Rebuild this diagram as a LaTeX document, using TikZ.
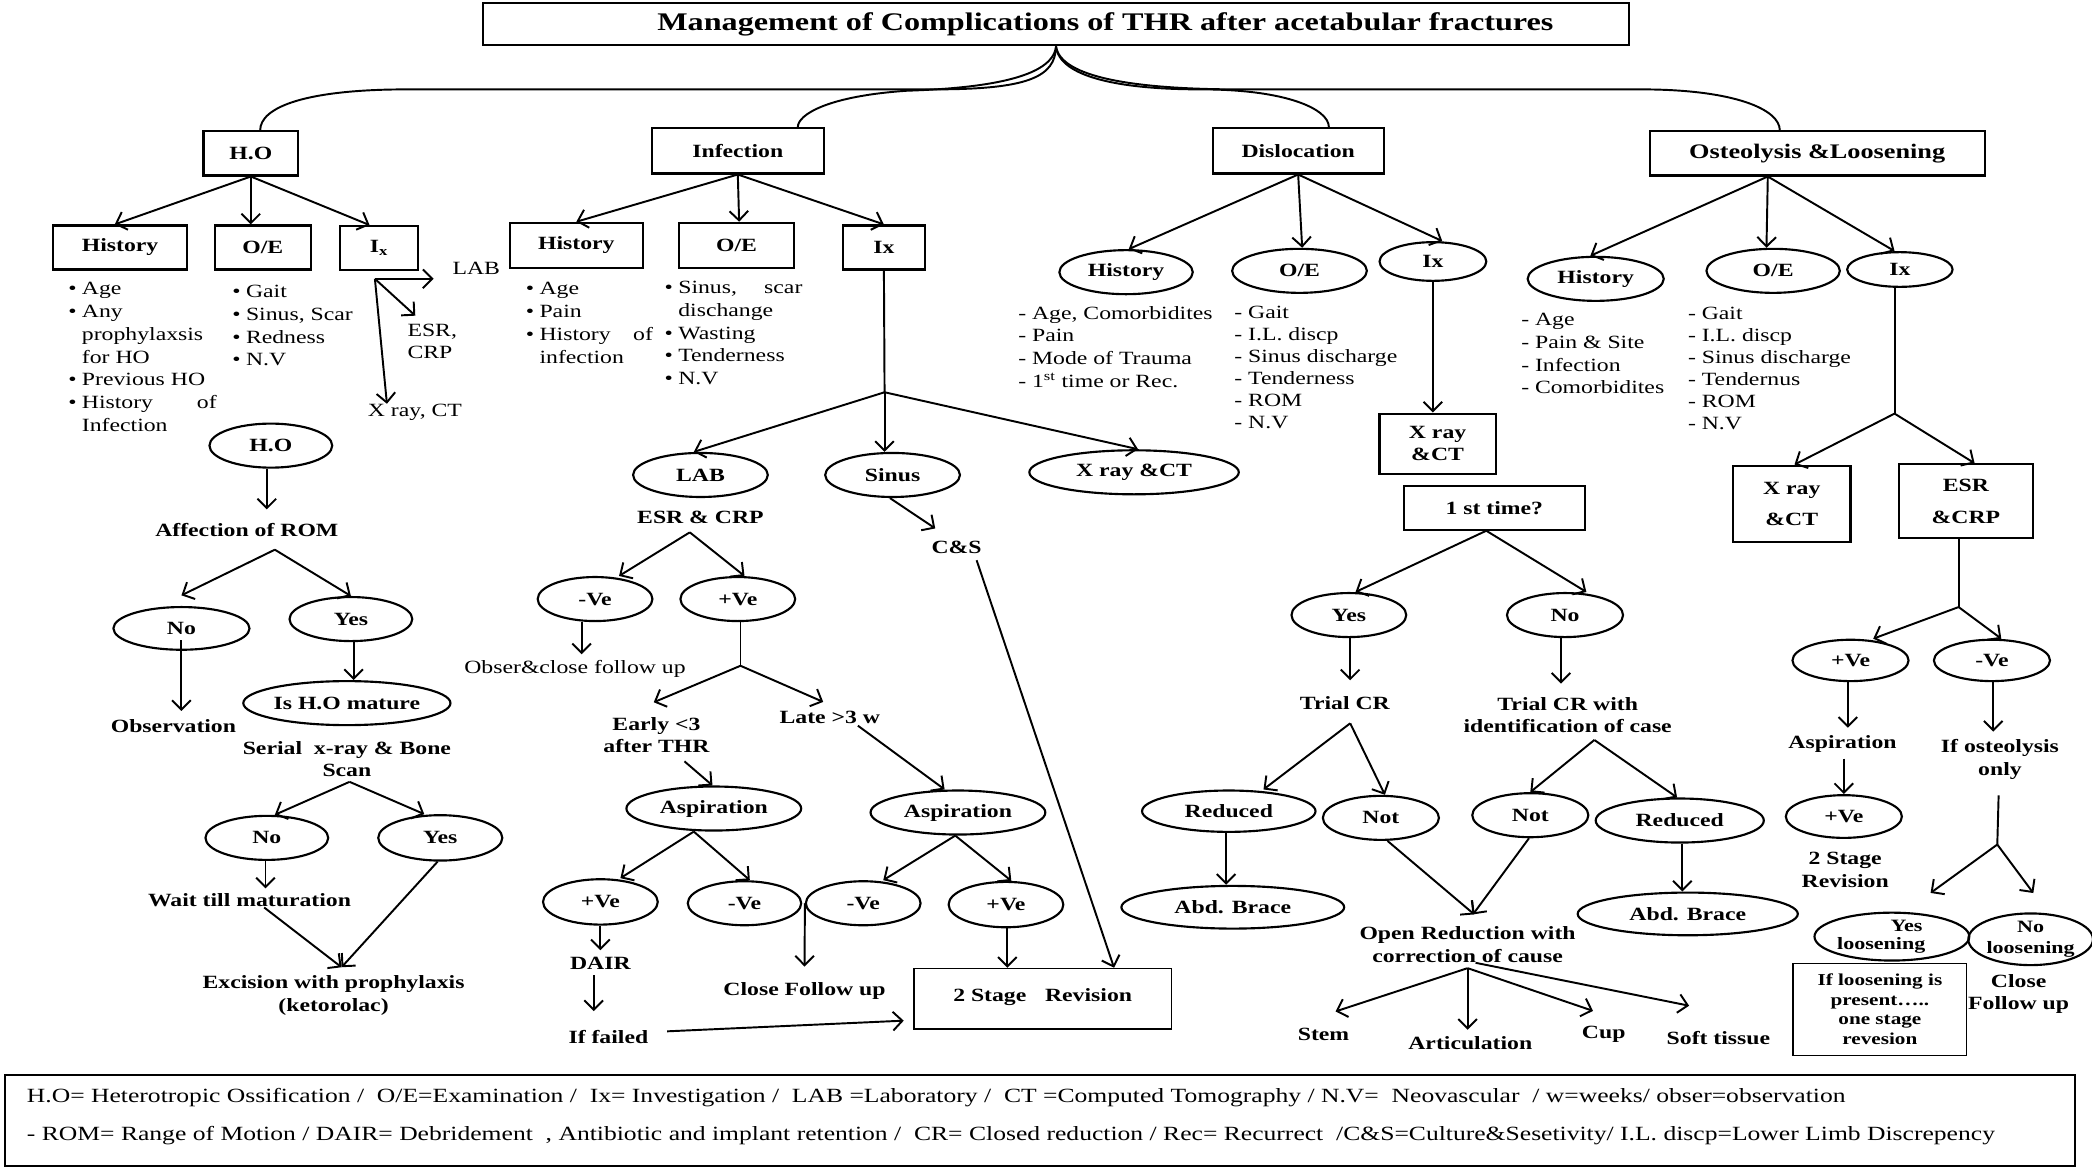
\documentclass[tikz,border=0pt]{standalone}
\usepackage{fontspec}
\setmainfont[FakeStretch=1.27]{Liberation Serif}
\usetikzlibrary{shapes.geometric,arrows.meta}
\newcommand{\myB}{\fontsize{14}{17}\selectfont\bfseries}
\newcommand{\myR}{\fontsize{14}{17}\selectfont}
\newcommand{\myRs}{\fontsize{14}{16.5}\selectfont}
\newcommand{\bl}{\textbullet}
\begin{document}
\begin{tikzpicture}[x=1pt,y=-1pt,
  box/.style={draw,line width=1.6pt,rectangle,inner sep=0pt,font=\myB,align=center},
  ell/.style={draw,line width=1.6pt,ellipse,inner sep=0pt,font=\myB,align=center},
  lbl/.style={inner sep=0pt,font=\myB,align=center},
  txt/.style={inner sep=0pt,font=\myR,align=center},
  lst/.style={inner sep=0pt,font=\myR,anchor=north west},
  lsts/.style={inner sep=0pt,font=\myRs,anchor=north west},
  arr/.style={line width=1.45pt,-{Straight Barb[length=7pt,width=14pt]}},
  ln/.style={line width=1.45pt}]
\useasboundingbox (0,0) rectangle (1568,875);

% ---------- title and level 1
\node[box,minimum width=859pt,minimum height=32pt,font=\fontsize{19}{19}\selectfont\bfseries] (title) at (791.5,18) {\hspace*{74pt}Management of Complications of THR after acetabular fractures};
\node[box,minimum width=71pt,minimum height=33pt] (ho) at (188,115) {H.O};
\node[box,minimum width=129pt,minimum height=34pt] (inf) at (553,113) {Infection};
\node[box,minimum width=128pt,minimum height=34pt] (dis) at (973,113) {Dislocation};
\node[box,minimum width=251pt,minimum height=33pt,font=\fontsize{15.5}{17}\selectfont\bfseries] (ost) at (1362,115) {Osteolysis \&Loosening};

\draw[ln] (title.south) .. controls (791,58) and (770,67) .. (700,67) -- (305,67) .. controls (230,67) and (195,80) .. ([xshift=7pt]ho.north);
\draw[ln] (title.south) .. controls (789,58) and (740,66) .. (680,68) .. controls (620,72) and (598,86) .. ([xshift=45pt]inf.north);
\draw[ln] (title.south) .. controls (794,58) and (840,67) .. (900,67) .. controls (965,67) and (996,82) .. ([xshift=23pt]dis.north);
\draw[ln] (title.south) .. controls (795,58) and (850,67) .. (930,67) -- (1230,67) .. controls (1300,67) and (1334,82) .. ([xshift=-28pt]ost.north);

% ---------- H.O
\node[box,minimum width=100pt,minimum height=33pt] (hohist) at (90,185.5) {History};
\node[box,minimum width=72pt,minimum height=33pt] (hooe) at (197,185.5) {O/E};
\node[box,minimum width=58pt,minimum height=33pt] (hoix) at (284,186) {I\textsubscript{x}};
\draw[arr] (ho.south) -- ([xshift=-4pt]hohist.north);
\draw[arr] (ho.south) -- (ho.south |- hooe.north);
\draw[arr] (ho.south) -- ([xshift=-7pt]hoix.north);

\coordinate (ixo) at (281,209);
\coordinate (labend) at (325,209);
\node[txt] (labho) at (357,201) {LAB};
\node[txt,align=left] (esrho) at (324,256) {ESR,\\CRP};
\node[txt] (xrho) at (311,309) {X ray, CT};
\draw[arr] (ixo) -- (labend);
\draw[arr] (ixo) -- ([xshift=6pt,yshift=6pt]esrho.north west);
\draw[arr] (ixo) -- ([xshift=-21pt]xrho.north);

\node[lst] (hohl) at (51,209) {\begin{tabular}{@{}l@{\hspace{4pt}}l@{}}\bl & Age\\ \bl & Any\\ & prophylaxsis\\ & for HO\\ \bl & Previous HO\\ \bl & \makebox[101pt][s]{History of}\\ & Infection\end{tabular}};
\node[lst] (hooel) at (174,211) {\begin{tabular}{@{}l@{\hspace{4pt}}l@{}}\bl & Gait\\ \bl & Sinus, Scar\\ \bl & Redness\\ \bl & N.V\end{tabular}};

\node[ell,minimum width=92pt,minimum height=33pt] (hoe) at (203,334) {H.O};
\node[lbl] (aff) at (185,397) {Affection of ROM};
\draw[arr] ([xshift=-3pt]hoe.south) -- ([xshift=15pt,yshift=10pt]aff.north);
\coordinate (b1) at (206,412);
\node[ell,minimum width=102pt,minimum height=32pt] (hono) at (136,471) {No};
\node[ell,minimum width=92pt,minimum height=33pt] (hoyes) at (263,464) {Yes};
\draw[arr] (b1) -- ([yshift=8pt]hono.north);
\draw[arr] (b1) -- (hoyes.north);
\node[lbl] (obs) at (130,544) {Observation};
\draw[arr] ([yshift=-9pt]hono.center) -- ([xshift=6pt,yshift=6pt]obs.north);
\node[ell,minimum width=130pt,minimum height=33pt] (mat) at (260,527) {Is H.O mature};
\draw[arr] ([xshift=2pt]hoyes.south) -- ([xshift=5pt]mat.north);
\node[lbl] (ser) at (260,569) {Serial\ \ x-ray \& Bone\\Scan};
\coordinate (b2) at (262,586);
\node[ell,minimum width=92pt,minimum height=33pt] (hono2) at (200,628) {No};
\node[ell,minimum width=93pt,minimum height=34pt] (hoyes2) at (330,628) {Yes};
\draw[arr] (b2) -- ([xshift=6pt]hono2.north);
\draw[arr] (b2) -- ([xshift=-12pt]hoyes2.north);
\node[lbl] (wait) at (187,675) {Wait till maturation};
\draw[arr] ([xshift=-1pt]hono2.south) -- ([xshift=12pt,yshift=4pt]wait.north);
\node[lbl] (exc) at (250,746) {Excision with prophylaxis\\(ketorolac)};
\draw[arr] ([xshift=11pt]wait.south) -- ([xshift=6pt,yshift=6pt]exc.north);
\draw[arr] ([xshift=-2pt]hoyes2.south) -- ([xshift=6pt,yshift=6pt]exc.north);

% ---------- Infection
\node[box,minimum width=100pt,minimum height=34pt] (ihist) at (432,184) {History};
\node[box,minimum width=86pt,minimum height=34pt] (ioe) at (552,184) {O/E};
\node[box,minimum width=61pt,minimum height=33pt] (iix) at (662.5,185.5) {Ix};
\draw[arr] (inf.south) -- (ihist.north);
\draw[arr] (inf.south) -- ([xshift=2pt]ioe.north);
\draw[arr] (inf.south) -- (iix.north);
\node[lst] (ihl) at (394,209) {\begin{tabular}{@{}l@{\hspace{4pt}}l@{}}\bl & Age\\ \bl & Pain\\ \bl & \makebox[85pt][s]{History of}\\ & infection\end{tabular}};
\node[lst] (ioel) at (498,208) {\begin{tabular}{@{}l@{\hspace{4pt}}l@{}}\bl & \makebox[93pt][s]{Sinus, scar}\\ & dischange\\ \bl & Wasting\\ \bl & Tenderness\\ \bl & N.V\end{tabular}};

\coordinate (j1) at (663,294);
\draw[ln] (iix.south) -- (j1);
\node[ell,minimum width=101pt,minimum height=33pt] (lab) at (525,356) {LAB};
\node[ell,minimum width=101pt,minimum height=33pt] (sinus) at (669,356) {Sinus};
\node[ell,minimum width=157pt,minimum height=33pt] (xri) at (850,354) {X ray \&CT};
\draw[arr] (j1) -- ([xshift=-5pt]lab.north);
\draw[arr] (j1) -- ([xshift=-6pt]sinus.north);
\draw[arr] (j1) -- ([xshift=3pt]xri.north);
\node[lbl] (esr) at (525,388) {ESR \& CRP};
\node[lbl] (cs) at (717,410) {C\&S};
\draw[arr] ([xshift=-2pt]sinus.south) -- ([xshift=-16pt,yshift=9pt]cs.north);
\coordinate (b3) at (517,399);
\node[ell,minimum width=86pt,minimum height=33pt] (neg1) at (446,449) {-Ve};
\node[ell,minimum width=86pt,minimum height=33pt] (pos1) at (553,449) {+Ve};
\draw[arr] (b3) -- ([xshift=18pt]neg1.north);
\draw[arr] (b3) -- ([xshift=5pt]pos1.north);
\node[txt] (obser) at (431,501) {Obser\&close follow up};
\draw[arr] ([xshift=-10pt]neg1.south) -- ([xshift=5pt,yshift=4pt]obser.north);
\coordinate (j2) at (555,499);
\draw[ln] ([xshift=2pt]pos1.south) -- (j2);
\node[lbl] (early) at (492,551) {Early <3\\after THR};
\node[lbl] (late) at (622,538) {Late >3 w};
\draw[arr] (j2) -- ([xshift=-2pt,yshift=11pt]early.north);
\draw[arr] (j2) -- ([xshift=-5pt,yshift=7pt]late.north);
\node[ell,minimum width=131pt,minimum height=33pt] (asp1) at (535,606) {Aspiration};
\node[ell,minimum width=131pt,minimum height=33pt] (asp2) at (718,609) {Aspiration};
\draw[arr] ([xshift=21pt,yshift=-6pt]early.south) -- ([xshift=-1pt]asp1.north);
\draw[arr] ([xshift=21pt,yshift=-1pt]late.south) -- ([xshift=-10pt]asp2.north);
\node[ell,minimum width=86pt,minimum height=34pt] (pos2) at (450,676) {+Ve};
\node[ell,minimum width=85pt,minimum height=33pt] (neg2) at (558,677) {-Ve};
\node[ell,minimum width=86pt,minimum height=33pt] (neg3) at (647,677) {-Ve};
\node[ell,minimum width=86pt,minimum height=34pt] (pos3) at (754,678) {+Ve};
\draw[arr] ([xshift=-15pt]asp1.south) -- ([xshift=15pt]pos2.north);
\draw[arr] ([xshift=-15pt]asp1.south) -- ([xshift=4pt]neg2.north);
\draw[arr] ([xshift=-2pt]asp2.south) -- ([xshift=15pt]neg3.north);
\draw[arr] ([xshift=-2pt]asp2.south) -- ([xshift=4pt]pos3.north);
\node[lbl] (dair) at (450,722) {DAIR};
\draw[arr] (pos2.south) -- ([yshift=5pt]dair.north);
\node[lbl] (fail) at (456,777) {If failed};
\draw[arr] ([xshift=-5pt,yshift=-4pt]dair.south) -- ([xshift=-11pt,yshift=14pt]fail.north);
\node[box,line width=1.3pt,minimum width=193pt,minimum height=45pt] (st2) at (781.5,748.5) {\raisebox{6pt}{2 Stage\quad Revision}};
\draw[arr] ([xshift=14pt,yshift=4pt]fail.east) -- ([xshift=-7pt,yshift=-16.5pt]st2.west);
\node[lbl] (cfu) at (603,743) {Close Follow up};
\draw[arr] ([xshift=2pt]neg2.east) -- ([yshift=12pt]cfu.north);
\draw[arr] ([xshift=1pt]pos3.south) -- ([xshift=-26.5pt]st2.north);
\draw[arr] ([xshift=15pt,yshift=-5pt]cs.south) -- ([xshift=53.5pt]st2.north);

% ---------- Dislocation
\node[ell,minimum width=100pt,minimum height=33pt] (dhist) at (844,204) {History};
\node[ell,minimum width=101pt,minimum height=33pt] (doe) at (974,203) {O/E};
\node[ell,minimum width=80pt,minimum height=29pt] (dix) at (1074,196) {Ix};
\draw[arr] (dis.south) -- ([xshift=2pt]dhist.north);
\draw[arr] (dis.south) -- ([xshift=2pt]doe.north);
\draw[arr] (dis.south) -- ([xshift=7pt]dix.north);
\node[lst] (dhl) at (763,227) {\begin{tabular}{@{}l@{}}- Age, Comorbidites\\- Pain\\- Mode of Trauma\\- 1\textsuperscript{st} time or Rec.\end{tabular}};
\node[lsts] (doel) at (925,227) {\begin{tabular}{@{}l@{}}- Gait\\- I.L. discp\\- Sinus discharge\\- Tenderness\\- ROM\\- N.V\end{tabular}};
\node[box,minimum width=87pt,minimum height=45pt] (xrd) at (1077.5,332.5) {X ray\\\&CT};
\draw[arr] (dix.south) -- (xrd.north -| dix.south);
\node[box,minimum width=136pt,minimum height=33pt] (first) at (1120,380.5) {1 st time?};
\node[ell,minimum width=86pt,minimum height=33pt] (dyes) at (1011,461) {Yes};
\node[ell,minimum width=87pt,minimum height=33pt] (dno) at (1173,461) {No};
\draw[arr] ([xshift=-6pt]first.south) -- ([xshift=5pt]dyes.north);
\draw[arr] ([xshift=-6pt]first.south) -- ([xshift=16pt]dno.north);
\node[lbl] (tcr) at (1008,527) {Trial CR};
\node[lbl] (tcr2) at (1175,536) {Trial CR with\\identification of case};
\draw[arr] ([xshift=1pt]dyes.south) -- ([xshift=4pt,yshift=12pt]tcr.north);
\draw[arr] ([xshift=-3pt]dno.south) -- ([xshift=-5pt,yshift=10pt]tcr2.north);
\node[ell,minimum width=130pt,minimum height=31pt] (red1) at (921,608) {Reduced};
\node[ell,minimum width=87pt,minimum height=33pt] (not1) at (1035,613) {Not};
\draw[arr] ([xshift=4pt,yshift=-10pt]tcr.south) -- ([xshift=26pt]red1.north);
\draw[arr] ([xshift=4pt,yshift=-10pt]tcr.south) -- ([xshift=3pt]not1.north);
\node[ell,minimum width=167pt,minimum height=32pt] (abd1) at (924,680) {Abd. Brace};
\draw[arr] ([xshift=-2pt]red1.south) -- ([xshift=-5pt]abd1.north);
\node[ell,minimum width=87pt,minimum height=33pt] (not2) at (1147,611) {Not};
\node[ell,minimum width=126pt,minimum height=33pt] (red2) at (1259,615) {Reduced};
\draw[arr] ([xshift=20pt,yshift=-5pt]tcr2.south) -- (not2.north);
\draw[arr] ([xshift=20pt,yshift=-5pt]tcr2.south) -- ([xshift=-2pt]red2.north);
\node[ell,minimum width=165pt,minimum height=32pt] (abd2) at (1265,685) {Abd. Brace};
\draw[arr] ([xshift=2pt]red2.south) -- ([xshift=-4pt]abd2.north);
\node[lbl] (open) at (1100,708) {Open Reduction with\\correction of cause};
\draw[arr] ([xshift=5pt]not1.south) -- ([xshift=5pt,yshift=9pt]open.north);
\draw[arr] ([xshift=-1pt]not2.south) -- ([xshift=4pt,yshift=9pt]open.north);
\node[lbl] (stem) at (992,775) {Stem};
\node[lbl] (artic) at (1102,782) {Articulation};
\node[lbl] (cup) at (1202,775) {Cup};
\node[lbl] (soft) at (1288,778) {Soft tissue};
\draw[arr] ([yshift=-4pt]open.south) -- ([xshift=9pt,yshift=12pt]stem.north);
\draw[arr] ([yshift=-4pt]open.south) -- ([xshift=-2pt,yshift=5pt]artic.north);
\draw[arr] ([yshift=-4pt]open.south) -- ([xshift=-8pt,yshift=11pt]cup.north);
\draw[arr] ([xshift=6pt]open.south) -- ([xshift=-22pt,yshift=19pt]soft.north);

% ---------- Osteolysis
\node[ell,minimum width=102pt,minimum height=33pt] (ohist) at (1196,209) {History};
\node[ell,minimum width=100pt,minimum height=33pt] (ooe) at (1329,203) {O/E};
\node[ell,minimum width=79pt,minimum height=26pt] (oix) at (1424,202) {Ix};
\draw[arr] ([xshift=-37pt]ost.south) -- ([xshift=-4pt]ohist.north);
\draw[arr] ([xshift=-37pt]ost.south) -- ([xshift=-5pt]ooe.north);
\draw[arr] ([xshift=-37pt]ost.south) -- ([xshift=-4pt]oix.north);
\node[lst] (ohl) at (1140,232) {\begin{tabular}{@{}l@{}}- Age\\- Pain \& Site\\- Infection\\- Comorbidites\end{tabular}};
\node[lsts] (ooel) at (1265,228) {\begin{tabular}{@{}l@{}}- Gait\\- I.L. discp\\- Sinus discharge\\- Tendernus\\- ROM\\- N.V\end{tabular}};
\coordinate (j3) at (1420,310);
\draw[ln] ([xshift=-4pt]oix.south) -- (j3);
\node[box,minimum width=88pt,minimum height=57pt] (xro) at (1343,377.5) {X ray\\[6pt]\&CT};
\node[box,minimum width=101pt,minimum height=55pt] (esro) at (1473.5,375.5) {ESR\\[7pt]\&CRP};
\draw[arr] (j3) -- ([xshift=2pt]xro.north);
\draw[arr] (j3) -- ([xshift=6.5pt]esro.north);
\coordinate (j4) at (1468,455);
\draw[ln] ([xshift=-5.5pt]esro.south) -- (j4);
\node[ell,minimum width=87pt,minimum height=31pt] (pos4) at (1387,495) {+Ve};
\node[ell,minimum width=87pt,minimum height=31pt] (neg4) at (1493,495) {-Ve};
\draw[arr] (j4) -- ([xshift=17pt]pos4.north);
\draw[arr] (j4) -- ([xshift=7pt]neg4.north);
\node[lbl] (aspo) at (1381,558) {Aspiration};
\draw[arr] ([xshift=-2pt]pos4.south) -- ([xshift=4pt,yshift=6pt]aspo.north);
\node[ell,minimum width=87pt,minimum height=32pt] (pos5) at (1382,612) {+Ve};
\draw[arr] ([xshift=1pt,yshift=-4pt]aspo.south) -- (pos5.north);
\node[lbl] (st2o) at (1383,652) {2 Stage\\Revision};
\node[lbl] (ifo) at (1499,569) {If osteolysis\\only};
\draw[arr] ([xshift=1pt]neg4.south) -- ([xshift=-5pt,yshift=5.5pt]ifo.north);
\coordinate (j5) at (1497,633);
\draw[ln] ([xshift=-1pt,yshift=-12pt]ifo.south) -- (j5);
\node[ell,minimum width=87pt,minimum height=32pt,font=\fontsize{13}{14}\selectfont\bfseries] (yesl) at (1418,702) {\hspace*{22pt}Yes\\loosening\hspace*{16pt}};
\node[ell,minimum width=87pt,minimum height=33pt,font=\fontsize{13}{16}\selectfont\bfseries] (nol) at (1522,704) {No\\loosening};
\draw[arr] (j5) -- ([xshift=29pt,yshift=14pt]yesl.north);
\draw[arr] (j5) -- ([xshift=2pt,yshift=14.5pt]nol.north);
\node[box,line width=1.1pt,minimum width=130pt,minimum height=69pt,font=\fontsize{12.5}{14.7}\selectfont\bfseries] (ifl) at (1409,756.5) {If loosening is\\present…..\\one stage\\revesion};
\node[lbl] (cfo) at (1513,745) {Close\\Follow up};

% ---------- legend
\node[draw,line width=1.7pt,minimum width=1551pt,minimum height=68pt,inner sep=0pt] (leg) at (779.5,840) {};
\node[anchor=west,inner sep=0pt] (leg1) at (20,823) {\resizebox{1363pt}{!}{\myR H.O= Heterotropic Ossification /\ \ O/E=Examination /\ \ Ix= Investigation /\ \ LAB =Laboratory /\ \ CT =Computed Tomography / N.V=\ \ Neovascular\ \ / w=weeks/ obser=observation}};
\node[anchor=west,inner sep=0pt] (leg2) at (20,851) {\resizebox{1475pt}{!}{\myR - ROM= Range of Motion / DAIR= Debridement\ \ , Antibiotic and implant retention /\ \ CR= Closed reduction / Rec= Recurrect\ \ /C\&S=Culture\&Sesetivity/ I.L. discp=Lower Limb Discrepency}};
\end{tikzpicture}
\end{document}
